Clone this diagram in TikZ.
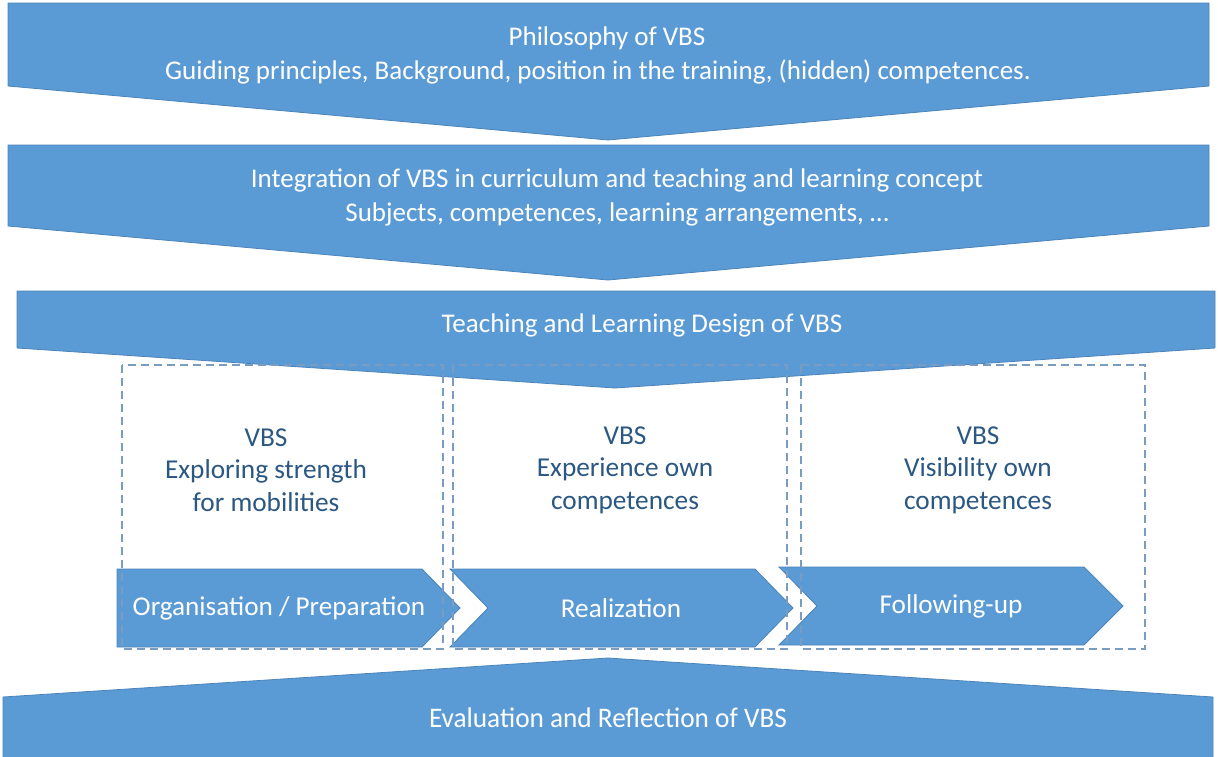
\documentclass[tikz,border=0pt]{standalone}
\usepackage{fontspec}
\setmainfont{Carlito}
\definecolor{bandblue}{HTML}{5B9BD5}
\definecolor{bandedge}{HTML}{4A84BA}
\definecolor{dashblue}{HTML}{7A9CC0}
\definecolor{textblue}{HTML}{2B5783}
\tikzset{
  band/.style={fill=bandblue, draw=bandedge, line width=0.8pt, line join=miter},
  bandtext/.style={text=white, font=\fontsize{27}{34}\selectfont, align=center, inner sep=0pt},
  phasebox/.style={draw=dashblue, dash pattern=on 8pt off 5pt, line width=1.2pt},
  phasetext/.style={text=textblue, font=\fontsize{27.3}{32.5}\selectfont, align=center, inner sep=0pt},
  steptext/.style={text=white, font=\fontsize{27.2}{30}\selectfont, inner sep=0pt}
}
\begin{document}
\begin{tikzpicture}[x=1pt,y=-1pt]
\useasboundingbox (0,0) rectangle (1218,756);
\begin{scope}
\clip (0,0) rectangle (1218,756);
% top chevrons
\draw[band] (8,3) -- (1209,3) -- (1209,86) -- (608,140) -- (8,86) -- cycle;
\draw[band] (8,145) -- (1209,145) -- (1209,226) -- (608,280) -- (8,226) -- cycle;
\draw[band] (17,291) -- (1215,291) -- (1215,348) -- (615,388) -- (17,348) -- cycle;
% bottom shape
\draw[band] (3,697) -- (608,658) -- (1213,697) -- (1213,760) -- (3,760) -- cycle;
% step chevrons
\draw[band] (117,569) -- (422,569) -- (460,608) -- (422,647) -- (117,647) -- cycle;
\draw[band] (450,569) -- (755,569) -- (793,608) -- (755,647) -- (450,647) -- (488,608) -- cycle;
\draw[band] (779,567) -- (1084,567) -- (1123,606) -- (1084,645) -- (779,645) -- (817,606) -- cycle;
\end{scope}
% dashed phase boxes
\draw[phasebox] (122,365) rectangle (443,649);
\draw[phasebox] (453,365) rectangle (787,649);
\draw[phasebox] (801,365) rectangle (1145,649);
% band texts
\node[bandtext] (philoA) at (607,38) {Philosophy of VBS};
\node[bandtext] (philoB) at (598,72) {Guiding principles, Background, position in the training, (hidden) competences.};
\node[bandtext] (integ) at (617,197) {Integration of VBS in curriculum and teaching and learning concept\\Subjects, competences, learning arrangements, \dots};
\node[bandtext] (design) at (642,325) {Teaching and Learning Design of VBS};
\node[bandtext] (eval) at (608,718) {\scalebox{1.01}[1.05]{Evaluation and Reflection of VBS}};
% phase texts
\node[phasetext] (p1) at (266,470) {VBS\\Exploring strength\\for mobilities};
\node[phasetext] (p2) at (625,470) {VBS\\Experience own\\competences};
\node[phasetext] (p3) at (978,470) {VBS\\Visibility own\\competences};
% step texts
\node[steptext] (s1) at (279,608) {Organisation / Preparation};
\node[steptext] (s2) at (621,608) {Realization};
\node[steptext] (s3) at (951,606) {Following-up};
\end{tikzpicture}
\end{document}
